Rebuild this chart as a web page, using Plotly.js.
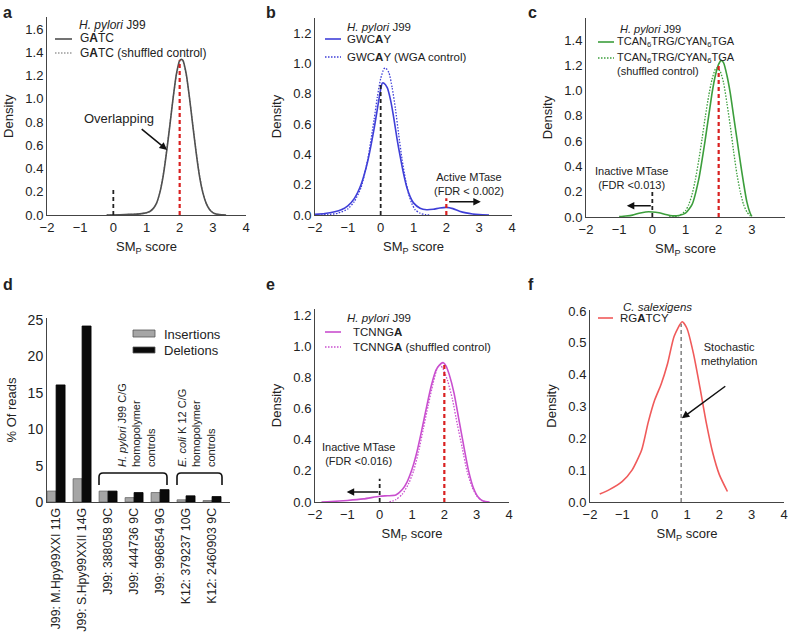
<!DOCTYPE html>
<html>
<head>
<meta charset="utf-8">
<script src="https://cdn.plot.ly/plotly-3.0.1.min.js"></script>
<style>html,body{margin:0;padding:0;background:#fff}</style>
</head>
<body>
<div id="chart" style="width:788px;height:637px"></div>
<script>
// ---- data ----
// a: GATC, H. pylori J99
const aX = [-0.2, 0.2, 0.5, 0.8, 1.0, 1.1, 1.2, 1.3, 1.4, 1.5, 1.6, 1.7, 1.8, 1.9, 2.0, 2.05, 2.1, 2.2, 2.3, 2.4, 2.5, 2.6, 2.7, 2.8, 2.9, 3.0, 3.1, 3.2, 3.4];
const aGatc = [0, 0.002, 0.005, 0.01, 0.02, 0.03, 0.055, 0.1, 0.19, 0.33, 0.53, 0.76, 1.0, 1.21, 1.33, 1.34, 1.33, 1.21, 1.0, 0.76, 0.53, 0.33, 0.19, 0.1, 0.048, 0.021, 0.008, 0.003, 0];
const aGatcShuffled = [0, 0.002, 0.005, 0.01, 0.019, 0.03, 0.054, 0.1, 0.19, 0.34, 0.54, 0.77, 1.0, 1.2, 1.32, 1.335, 1.32, 1.2, 1.0, 0.77, 0.54, 0.34, 0.2, 0.1, 0.05, 0.022, 0.009, 0.003, 0];
const aCutoffs = [0, 2];
const aCutoffTops = [0.22, 1.33];

// b: GWCAY
const bX = [-2.0, -1.7, -1.4, -1.2, -1.0, -0.8, -0.6, -0.4, -0.2, -0.1, 0, 0.05, 0.1, 0.2, 0.3, 0.4, 0.5, 0.6, 0.7, 0.8, 0.9, 1.0, 1.2, 1.4, 1.6, 1.8, 2.0, 2.2, 2.4, 2.6, 2.8, 3.0, 3.3];
const bGwcay = [0.004, 0.01, 0.022, 0.035, 0.06, 0.11, 0.2, 0.35, 0.57, 0.7, 0.83, 0.87, 0.87, 0.84, 0.76, 0.64, 0.5, 0.38, 0.27, 0.18, 0.12, 0.08, 0.045, 0.035, 0.038, 0.046, 0.05, 0.042, 0.025, 0.014, 0.007, 0.003, 0];
const bWgaX = [-2.0, -1.6, -1.3, -1.0, -0.8, -0.6, -0.4, -0.2, -0.1, 0, 0.1, 0.15, 0.25, 0.35, 0.45, 0.55, 0.65, 0.75, 0.85, 0.95, 1.05, 1.2, 1.35, 1.5];
const bGwcayWga = [0, 0.003, 0.012, 0.04, 0.09, 0.18, 0.36, 0.63, 0.78, 0.9, 0.965, 0.97, 0.94, 0.84, 0.7, 0.53, 0.37, 0.24, 0.14, 0.075, 0.035, 0.012, 0.003, 0];
const bCutoffs = [0, 2];
const bCutoffTops = [0.86, 0.11];

// c: TCAN6TRG/CYAN6TGA
const cX = [-1.0, -0.8, -0.6, -0.4, -0.2, 0, 0.2, 0.4, 0.6, 0.8, 1.0, 1.2, 1.4, 1.6, 1.8, 1.9, 2.0, 2.08, 2.15, 2.25, 2.35, 2.45, 2.55, 2.65, 2.75, 2.85, 2.95, 3.0];
const cMotif = [0.003, 0.008, 0.015, 0.03, 0.04, 0.04, 0.033, 0.02, 0.01, 0.012, 0.03, 0.1, 0.3, 0.62, 0.98, 1.12, 1.21, 1.24, 1.22, 1.12, 0.98, 0.8, 0.62, 0.44, 0.27, 0.12, 0.03, 0.005];
const cShufX = [0.5, 0.8, 1.0, 1.1, 1.2, 1.3, 1.4, 1.5, 1.6, 1.7, 1.8, 1.9, 1.95, 2.05, 2.15, 2.25, 2.35, 2.45, 2.55, 2.65, 2.75, 2.85, 2.95, 3.0];
const cMotifShuffled = [0, 0.01, 0.05, 0.1, 0.18, 0.3, 0.45, 0.62, 0.8, 0.96, 1.09, 1.17, 1.18, 1.15, 1.06, 0.9, 0.72, 0.52, 0.34, 0.2, 0.1, 0.04, 0.01, 0];
const cCutoffs = [0, 2];
const cCutoffTops = [0.2, 1.2];

// d: homopolymer indels
const dLabels = ['J99: M.Hpy99XXI 11G', 'J99: S.Hpy99XXII 14G', 'J99: 388058 9C', 'J99: 444736 9C', 'J99: 996854 9G', 'K12: 379237 10G', 'K12: 2460903 9C'];
const dInsertions = [1.5, 3.2, 1.5, 0.6, 1.3, 0.3, 0.2];
const dDeletions = [16.1, 24.2, 1.5, 1.3, 1.7, 0.85, 0.75];

// e: TCNNGA
const eX = [-1.8, -1.5, -1.0, -0.5, 0, 0.25, 0.5, 0.7, 0.85, 1.0, 1.15, 1.3, 1.45, 1.6, 1.75, 1.9, 1.97, 2.05, 2.15, 2.3, 2.45, 2.6, 2.75, 2.9, 3.05, 3.2, 3.4];
const eMotif = [0, 0.003, 0.01, 0.02, 0.037, 0.04, 0.045, 0.08, 0.13, 0.21, 0.32, 0.46, 0.61, 0.75, 0.85, 0.89, 0.895, 0.875, 0.82, 0.7, 0.53, 0.36, 0.2, 0.09, 0.03, 0.006, 0];
const eShufX = [0.3, 0.5, 0.7, 0.9, 1.05, 1.2, 1.35, 1.5, 1.65, 1.8, 1.87, 1.95, 2.1, 2.25, 2.4, 2.55, 2.7, 2.85, 3.0, 3.15, 3.3];
const eMotifShuffled = [0, 0.015, 0.05, 0.12, 0.2, 0.32, 0.47, 0.62, 0.76, 0.87, 0.88, 0.86, 0.78, 0.66, 0.5, 0.35, 0.2, 0.1, 0.04, 0.01, 0];
const eCutoffs = [0, 2];
const eCutoffTops = [0.15, 0.88];

// f: RGATCY, C. salexigens
const fX = [-1.7, -1.4, -1.0, -0.7, -0.4, -0.2, 0, 0.2, 0.4, 0.6, 0.85, 1.0, 1.2, 1.4, 1.6, 1.8, 2.0, 2.25];
const fRgatcy = [0.025, 0.039, 0.065, 0.1, 0.164, 0.25, 0.32, 0.37, 0.435, 0.52, 0.566, 0.545, 0.466, 0.36, 0.247, 0.153, 0.086, 0.033];
const fCutoffs = [0.82];
const fCutoffTops = [0.56];

// ticks
const smpTicks = [-2, -1, 0, 1, 2, 3, 4];
const aTicks = [0, 0.2, 0.4, 0.6, 0.8, 1.0, 1.2, 1.4, 1.6];
const bTicks = [0, 0.2, 0.4, 0.6, 0.8, 1.0, 1.2];
const cTicks = [0, 0.2, 0.4, 0.6, 0.8, 1.0, 1.2, 1.4];
const dTicks = [0, 5, 10, 15, 20, 25];
const eTicks = [0, 0.2, 0.4, 0.6, 0.8, 1.0, 1.2];
const fTicks = [0, 0.1, 0.2, 0.3, 0.4, 0.5, 0.6];

// ---- layout helpers (pixel -> paper) ----
const W = 788, H = 637;
const px = v => v / W;
const py = v => 1 - v / H;

const GRAY = '#505050', LGRAY = '#9a9a9a', BLUE = '#3f3fd8', GREEN = '#3c9e3c',
      MAGENTA = '#c94fcf', RED = '#f05a5a', CUT_RED = '#d92020';
const DOTS = '1.5px,1.5px';

const axisBase = {
  showline: true, linecolor: '#444', linewidth: 1, ticks: '', showgrid: false,
  zeroline: false, tickfont: {size: 13, color: '#222'}, fixedrange: true
};
const xTitle = {text: 'SM<sub>P</sub> score', font: {size: 13}, standoff: 8};
const yTitle = {text: 'Density', font: {size: 13}, standoff: 8};

function smpAxis(l, r, anchor) {
  return {...axisBase, domain: [px(l), px(r)], anchor, range: [-2, 4], tickvals: smpTicks, title: xTitle};
}
function densAxis(top, bottom, anchor, max, ticks, fmt) {
  return {...axisBase, domain: [py(bottom), py(top)], anchor, range: [0, max], tickvals: ticks, tickformat: fmt, title: yTitle};
}

function curve(x, y, ax, color, dotted) {
  return {x, y, xaxis: 'x' + ax, yaxis: 'y' + ax, type: 'scatter', mode: 'lines',
    line: {color, width: dotted ? 1.3 : 1.6, dash: dotted ? DOTS : 'solid', shape: 'spline', smoothing: 0.6},
    hoverinfo: 'skip', showlegend: false};
}
function cutoff(xs, tops, i, ax, color, width) {
  return {x: [xs[i], xs[i]], y: [0, tops[i]], xaxis: 'x' + ax, yaxis: 'y' + ax, type: 'scatter', mode: 'lines', line: {color, width, dash: '4px,3px'}, hoverinfo: 'skip', showlegend: false};
}

const traces = [
  curve(aX, aGatcShuffled, '', LGRAY, true),
  curve(aX, aGatc, '', GRAY),
  cutoff(aCutoffs, aCutoffTops, 0, '', '#222', 1.8),
  cutoff(aCutoffs, aCutoffTops, 1, '', CUT_RED, 2.2),

  curve(bWgaX, bGwcayWga, '2', BLUE, true),
  curve(bX, bGwcay, '2', BLUE),
  cutoff(bCutoffs, bCutoffTops, 0, '2', '#222', 1.8),
  cutoff(bCutoffs, bCutoffTops, 1, '2', CUT_RED, 2.2),

  curve(cShufX, cMotifShuffled, '3', GREEN, true),
  curve(cX, cMotif, '3', GREEN),
  cutoff(cCutoffs, cCutoffTops, 0, '3', '#222', 1.8),
  cutoff(cCutoffs, cCutoffTops, 1, '3', CUT_RED, 2.2),

  {x: dLabels, y: dInsertions, xaxis: 'x4', yaxis: 'y4', type: 'bar', marker: {color: '#a6a6a6', line: {color: '#666', width: 0.8}}, hoverinfo: 'skip', showlegend: false},
  {x: dLabels, y: dDeletions, xaxis: 'x4', yaxis: 'y4', type: 'bar', marker: {color: '#0a0a0a', line: {color: '#000', width: 0.8}}, hoverinfo: 'skip', showlegend: false},

  curve(eShufX, eMotifShuffled, '5', MAGENTA, true),
  curve(eX, eMotif, '5', MAGENTA),
  cutoff(eCutoffs, eCutoffTops, 0, '5', '#222', 1.8),
  cutoff(eCutoffs, eCutoffTops, 1, '5', CUT_RED, 2.2),

  curve(fX, fRgatcy, '6', RED),
  cutoff(fCutoffs, fCutoffTops, 0, '6', '#888', 1.6)
];

// ---- legends, labels, arrows ----
function keyLine(x0, x1, y, color, dotted) {
  return {type: 'line', xref: 'paper', yref: 'paper', x0: px(x0), x1: px(x1), y0: py(y), y1: py(y),
    line: {color, width: dotted ? 1.3 : 1.6, dash: dotted ? DOTS : 'solid'}};
}
function keyBox(x0, x1, y0, y1, fill) {
  return {type: 'rect', xref: 'paper', yref: 'paper', x0: px(x0), x1: px(x1), y0: py(y1), y1: py(y0), fillcolor: fill, line: {color: '#555', width: 0.8}};
}
function bracket(x0, x1, top, bottom) {
  const r = 4;
  const X = v => px(v), Y = v => py(v);
  return {type: 'path', xref: 'paper', yref: 'paper', line: {color: '#111', width: 1.6},
    path: `M${X(x0)},${Y(bottom)} L${X(x0)},${Y(top + r)} Q${X(x0)},${Y(top)} ${X(x0 + r)},${Y(top)} ` +
          `L${X(x1 - r)},${Y(top)} Q${X(x1)},${Y(top)} ${X(x1)},${Y(top + r)} L${X(x1)},${Y(bottom)}`};
}
function label(x, y, text, size, extra) {
  return {xref: 'paper', yref: 'paper', x: px(x), y: py(y), text, showarrow: false, xanchor: 'left', yanchor: 'middle', font: {size, color: '#222'}, ...extra};
}
function note(ax, x, y, text, size) {
  return {xref: 'x' + ax, yref: 'y' + ax, x, y, text, showarrow: false, xanchor: 'center', yanchor: 'middle', font: {size, color: '#222'}};
}
function arrow(ax, x0, y0, x1, y1) {
  const xr = 'x' + ax, yr = 'y' + ax;
  return {xref: xr, yref: yr, axref: xr, ayref: yr, ax: x0, ay: y0, x: x1, y: y1, text: '', showarrow: true, arrowhead: 2, arrowsize: 1, arrowwidth: 1.5, arrowcolor: '#111'};
}

const shapes = [
  keyLine(55, 72, 39, GRAY), keyLine(55, 72, 53, LGRAY, true),
  keyLine(325, 341, 39, BLUE), keyLine(325, 341, 57, BLUE, true),
  keyLine(598, 614, 42, GREEN), keyLine(598, 614, 58, GREEN, true),
  keyLine(325, 341, 332, MAGENTA), keyLine(325, 341, 347, MAGENTA, true),
  keyLine(598, 613, 318, RED),
  keyBox(133, 155, 330, 337, '#a6a6a6'), keyBox(133, 155, 347, 353, '#0a0a0a'),
  bracket(99, 167, 473, 485), bracket(177, 222, 473, 485)
];

const annotations = [
  // panel letters
  label(1, 12, '<b>a</b>', 16), label(264, 12, '<b>b</b>', 16), label(526, 12, '<b>c</b>', 16),
  label(1, 284, '<b>d</b>', 16), label(264, 285, '<b>e</b>', 16), label(526, 285, '<b>f</b>', 16),
  // legends
  label(77, 25, '<i>H. pylori</i> J99', 12),
  label(78, 38, 'G<b>A</b>TC', 12), label(78, 53, 'G<b>A</b>TC (shuffled control)', 12),
  label(345, 27, '<i>H. pylori</i> J99', 11.5),
  label(345, 39, 'GWC<b>A</b>Y', 11.5), label(345, 57, 'GWC<b>A</b>Y (WGA control)', 11.5),
  label(618, 29, '<i>H. pylori</i> J99', 11),
  label(615, 42, 'TCAN<sub>6</sub>TRG/CYAN<sub>6</sub>TGA', 11),
  label(615, 58, 'TCAN<sub>6</sub>TRG/CYAN<sub>6</sub>TGA', 11),
  label(615, 71, '(shuffled control)', 11),
  label(345, 318, '<i>H. pylori</i> J99', 11.5),
  label(351, 332, 'TCNNG<b>A</b>', 11.5), label(351, 347, 'TCNNG<b>A</b> (shuffled control)', 11.5),
  label(621, 307, '<i>C. salexigens</i>', 11.5),
  label(618, 318, 'RG<b>A</b>TCY', 11.5),
  label(162, 334, 'Insertions', 13), label(162, 351, 'Deletions', 13),
  // bracket captions (rotated)
  {xref: 'paper', yref: 'paper', x: px(136), y: py(469), text: '<i>H. pylori</i> J99 C/G<br>homopolymer<br>controls', textangle: -90, align: 'left', xanchor: 'center', yanchor: 'bottom', showarrow: false, font: {size: 11, color: '#222'}},
  {xref: 'paper', yref: 'paper', x: px(196), y: py(469), text: '<i>E. coli</i> K 12 C/G<br>homopolymer<br>controls', textangle: -90, align: 'left', xanchor: 'center', yanchor: 'bottom', showarrow: false, font: {size: 11, color: '#222'}},
  // in-plot notes and arrows
  note('', 0.16, 0.83, 'Overlapping', 13),
  arrow('', 0.81, 0.75, 1.62, 0.56),
  note('2', 2.7, 0.205, 'Active MTase<br>(FDR &lt; 0.002)', 11),
  arrow('2', 2.04, 0.088, 3.05, 0.088),
  note('3', -0.62, 0.31, 'Inactive MTase<br>(FDR &lt;0.013)', 11),
  arrow('3', 0, 0.09, -0.77, 0.09),
  note('5', -0.66, 0.31, 'Inactive MTase<br>(FDR &lt;0.016)', 11),
  arrow('5', 0, 0.064, -1.02, 0.064),
  note('6', 2.3, 0.465, 'Stochastic<br>methylation', 11),
  arrow('6', 2.23, 0.367, 0.84, 0.263)
];

const layout = {
  width: W, height: H,
  margin: {l: 0, r: 0, t: 0, b: 0},
  paper_bgcolor: '#fff', plot_bgcolor: '#fff',
  font: {family: 'Liberation Sans, Arial, sans-serif', color: '#222', size: 13},
  showlegend: false,
  barmode: 'group', bargap: 0.31, bargroupgap: 0,
  xaxis: smpAxis(47, 246, 'y'),
  yaxis: densAxis(17.4, 215, 'x', 1.7, aTicks, '.1f'),
  xaxis2: smpAxis(315, 512, 'y2'),
  yaxis2: densAxis(18, 215, 'x2', 1.3, bTicks, '.1f'),
  xaxis3: smpAxis(586, 785, 'y3'),
  yaxis3: densAxis(18, 217, 'x3', 1.575, cTicks, '.1f'),
  xaxis4: {...axisBase, domain: [px(47), px(230)], anchor: 'y4', type: 'category', range: [-0.35, 6.69], tickangle: -90, tickfont: {size: 12.3, color: '#222'}},
  yaxis4: {...axisBase, domain: [py(502), py(318)], anchor: 'x4', range: [0, 25.3], tickvals: dTicks, tickfont: {size: 14, color: '#222'}, title: {text: '% Of reads', font: {size: 13}, standoff: 8}},
  xaxis5: smpAxis(315, 509, 'y5'),
  yaxis5: densAxis(309, 502, 'x5', 1.24, eTicks, '.1f'),
  xaxis6: smpAxis(590, 784, 'y6'),
  yaxis6: densAxis(310, 502, 'x6', 0.603, fTicks, '.1f'),
  shapes, annotations
};

Plotly.newPlot('chart', traces, layout, {displayModeBar: false, staticPlot: true});
</script>
</body>
</html>
